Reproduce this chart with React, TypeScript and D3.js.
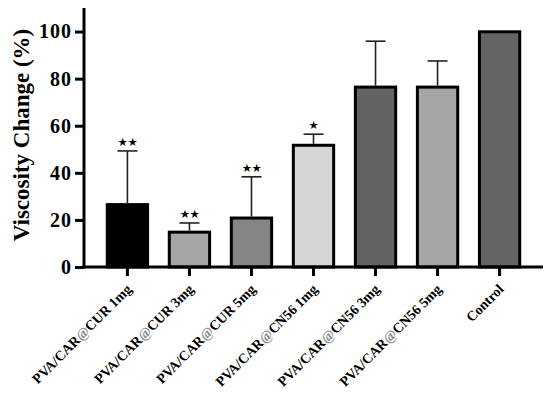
import * as d3 from 'd3';
import { useEffect, useRef } from 'react';

const groups = ['PVA/CAR@CUR 1mg', 'PVA/CAR@CUR 3mg', 'PVA/CAR@CUR 5mg', 'PVA/CAR@CN56 1mg', 'PVA/CAR@CN56 3mg', 'PVA/CAR@CN56 5mg', 'Control'];
const means = [26.5, 14.8, 20.8, 51.7, 76.4, 76.4, 99.9];
const errors = [22.8, 3.9, 17.5, 4.7, 19.5, 11.1, 0];
const stars = ['★★', '★★', '★★', '★', '', '', ''];
const fills = ['#000000', '#a6a6a8', '#858585', '#d6d6d6', '#636363', '#a5a5a7', '#646464'];
const yTicks = [0, 20, 40, 60, 80, 100];

export default function App() {
  const ref = useRef<SVGSVGElement>(null);

  useEffect(() => {
    const w = 550, h = 398;
    const left = 84, right = 543, top = 8, bottom = 267;
    const font = '"Liberation Serif", "Times New Roman", serif';

    const svg = d3.select(ref.current);
    svg.selectAll('*').remove();
    svg.attr('width', w).attr('height', h);

    const x = d3.scaleBand<string>()
      .domain(groups)
      .range([left, right])
      .paddingInner(0.35)
      .paddingOuter(0.375);
    const y = d3.scaleLinear().domain([0, 110]).range([bottom, top]);

    // bars
    svg.append('g').selectAll('rect')
      .data(groups)
      .join('rect')
      .attr('x', d => x(d)!)
      .attr('y', (d, i) => y(means[i]))
      .attr('width', x.bandwidth())
      .attr('height', (d, i) => y(0) - y(means[i]))
      .attr('fill', (d, i) => fills[i])
      .attr('stroke', '#000')
      .attr('stroke-width', 3);

    // error bars (upper only)
    const eb = svg.append('g').attr('stroke', '#222').attr('stroke-width', 1.6);
    groups.forEach((g, i) => {
      if (!errors[i]) return;
      const cx = x(g)! + x.bandwidth() / 2;
      const yTop = y(means[i] + errors[i]);
      eb.append('line').attr('x1', cx).attr('x2', cx).attr('y1', y(means[i]) - 1.5).attr('y2', yTop);
      eb.append('line').attr('x1', cx - 10).attr('x2', cx + 10).attr('y1', yTop).attr('y2', yTop);
    });

    // significance stars
    svg.append('g').selectAll('text')
      .data(groups)
      .join('text')
      .attr('x', d => x(d)! + x.bandwidth() / 2)
      .attr('y', (d, i) => y(means[i] + errors[i]) - 5)
      .attr('text-anchor', 'middle')
      .style('font-family', '"DejaVu Sans", sans-serif')
      .style('font-size', '11.5px')
      .style('letter-spacing', '-0.5px')
      .text((d, i) => stars[i]);

    // y axis
    const yAxis = svg.append('g')
      .attr('transform', `translate(${left},0)`)
      .call(d3.axisLeft(y).tickValues(yTicks).tickSize(9).tickPadding(3).tickSizeOuter(0));
    yAxis.select('.domain').attr('stroke-width', 3).attr('d', `M0,${top}V${bottom + 1.5}`);
    yAxis.selectAll('.tick line').attr('stroke-width', 3);
    yAxis.selectAll('.tick text')
      .style('font-family', font)
      .style('font-weight', 'bold')
      .style('font-size', '20px')
      .style('letter-spacing', '1px')
      .attr('fill', '#000');

    // x axis
    const xAxis = svg.append('g')
      .attr('transform', `translate(0,${bottom})`)
      .call(d3.axisBottom(x).tickSize(9).tickSizeOuter(0).tickFormat(() => ''));
    xAxis.select('.domain').attr('stroke-width', 3).attr('d', `M${left - 1.5},0H${right}`);
    xAxis.selectAll('.tick line').attr('stroke-width', 3);

    // rotated category labels
    svg.append('g').selectAll('text')
      .data(groups)
      .join('text')
      .attr('transform', d => `translate(${x(d)! + x.bandwidth() / 2 + 5},${bottom + 23}) rotate(-45)`)
      .attr('text-anchor', 'end')
      .style('font-family', font)
      .style('font-weight', 'bold')
      .style('font-size', '14px')
      .each(function (d) {
        const t = d3.select(this);
        const parts = d.split('@');
        t.append('tspan').text(parts[0]);
        if (parts.length > 1) {
          t.append('tspan').attr('fill', '#8a8a8a').text('@');
          t.append('tspan').text(parts[1]);
        }
      });

    // y axis title
    svg.append('text')
      .attr('transform', `translate(29,135) rotate(-90)`)
      .attr('text-anchor', 'middle')
      .style('font-family', font)
      .style('font-weight', 'bold')
      .style('font-size', '23px')
      .text('Viscosity Change (%)');
  }, []);

  return <svg ref={ref} style={{ position: 'absolute', left: 0, top: 0 }} />;
}
